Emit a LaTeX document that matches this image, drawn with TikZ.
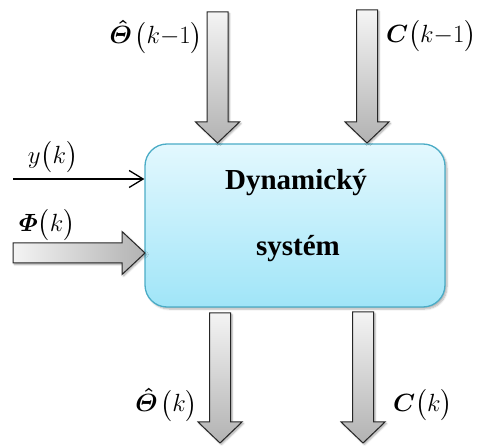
\documentclass[tikz,border=0pt]{standalone}
\usepackage{amsmath,amssymb}
\usepackage{fontspec}
\setmainfont{Liberation Serif}
\usetikzlibrary{arrows.meta,positioning,calc,shadows.blur}
\definecolor{boxline}{HTML}{4BACC6}
\definecolor{boxtop}{HTML}{E3F8FE}
\definecolor{boxbot}{HTML}{A0E5F8}
\definecolor{arrlight}{HTML}{F4F4F4}
\definecolor{arrdark}{HTML}{B2B2B2}

\tikzset{
  fat/.style={draw=black!85, line width=1pt, line join=miter,
    blur shadow={shadow xshift=1.5pt, shadow yshift=-1.5pt, shadow blur steps=5, shadow opacity=35}},
  % block arrow pointing down, #1 = length
  pics/dblock/.style={code={
    \path[fat, top color=arrlight, bottom color=arrdark]
      (-10.5,0) -- (10.5,0) -- (10.5,#1-21) -- (22,#1-21) -- (0,#1)
      -- (-22,#1-21) -- (-10.5,#1-21) -- cycle;
  }},
  % block arrow pointing right, #1 = length
  pics/rblock/.style={code={
    \path[fat, left color=arrlight, right color=arrdark]
      (0,-10) -- (#1-23,-10) -- (#1-23,-21.5) -- (#1,0) -- (#1-23,21.5)
      -- (#1-23,10) -- (0,10) -- cycle;
  }},
}

\begin{document}
\begin{tikzpicture}[
  x=1pt, y=-1pt,
  sysbox/.style={draw=boxline, line width=1.3pt, rounded corners=22pt,
    top color=boxtop, bottom color=boxbot,
    minimum width=300pt, minimum height=163pt,
    blur shadow={shadow xshift=2pt, shadow yshift=-2pt, shadow blur steps=6, shadow opacity=30}},
  title/.style={font=\bfseries\fontsize{29}{33}\selectfont, inner sep=0pt},
  lbl/.style={font=\fontsize{26}{30}\selectfont, inner sep=0pt},
  thinarr/.style={-{Straight Barb[length=14pt,width=17pt,line width=1.3pt]}, line width=1.3pt}
]
  \useasboundingbox (0,0) rectangle (501,446);

  % the system block
  \node[sysbox] (sys) at (295,225.5) {};
  \node[title] (name1) at (296,183) {Dynamický};
  \node[title] (name2) at (298,249) {systém};

  % inputs from above
  \coordinate (thin) at (217.5,12);
  \coordinate (cin) at (367,10);
  \pic at (thin) {dblock=131};
  \pic at (cin) {dblock=133};
  \node[lbl, anchor=east] (thinlbl) at (203,37) {$\boldsymbol{\hat{\varTheta}}\mkern2mu\bigl(k{-}1\bigr)$};
  \node[lbl, anchor=west] (cinlbl) at (386,36) {$\boldsymbol{C}\bigl(k{-}1\bigr)$};

  % inputs from the left
  \coordinate (yin) at (13,179);
  \draw[thinarr] (yin) -- (yin -| sys.west);
  \node[lbl] (ylbl) at (53,157) {$y\bigl(k\bigr)$};
  \coordinate (phin) at (13,253);
  \pic at (phin) {rblock=132};
  \node[lbl] (philbl) at (47,225) {$\boldsymbol{\varPhi}\bigl(k\bigr)$};

  % outputs
  \coordinate (thout) at (220,313);
  \coordinate (cout) at (363,312);
  \pic at (thout) {dblock=130};
  \pic at (cout) {dblock=131};
  \node[lbl, anchor=east] (thoutlbl) at (198,405) {$\boldsymbol{\hat{\varTheta}}\mkern2mu\bigl(k\bigr)$};
  \node[lbl, anchor=west] (coutlbl) at (393,405) {$\boldsymbol{C}\bigl(k\bigr)$};
\end{tikzpicture}
\end{document}
